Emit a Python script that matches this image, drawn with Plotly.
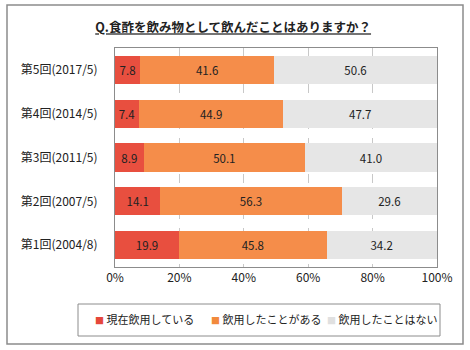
import plotly.graph_objects as go

categories = ["第1回(2004/8)", "第2回(2007/5)", "第3回(2011/5)", "第4回(2014/5)", "第5回(2017/5)"]
series_names = ["現在飲用している", "飲用したことがある", "飲用したことはない"]
current_use = [19.9, 14.1, 8.9, 7.4, 7.8]
used_before = [45.8, 56.3, 50.1, 44.9, 41.6]
never_used = [34.2, 29.6, 41.0, 47.7, 50.6]
tick_values = [0, 20, 40, 60, 80, 100]
tick_labels = ["0%", "20%", "40%", "60%", "80%", "100%"]

colors = ["#e84f3f", "#f58d4a", "#e6e6e6"]
legend_colors = ["#e5473a", "#f28a3c", "#e0e0e0"]
legend_widths = [71, 71, 118]
font_family = "Noto Sans CJK JP, Noto Sans, sans-serif"

fig = go.Figure()
for name, vals, col in zip(series_names, [current_use, used_before, never_used], colors):
    fig.add_trace(go.Bar(
        y=categories, x=vals, orientation="h", name=name,
        marker=dict(color=col, line=dict(width=0)),
        text=[f"{v:.1f}" for v in vals], textposition="inside",
        insidetextanchor="middle", constraintext="none",
        textfont=dict(size=11.5, color="#222222", family=font_family),
        showlegend=False, hoverinfo="skip",
    ))
# legend entries: coloured square glyph inside the label, compact like the original
for name, col, lw in zip(series_names, legend_colors, legend_widths):
    fig.add_trace(go.Scatter(
        x=[None], y=[None], mode="markers",
        name=f'<span style="color:{col};font-size:9px">■</span> {name}',
        marker=dict(symbol="square", size=1, color="rgba(0,0,0,0)"),
        showlegend=True, legendwidth=lw,
    ))

L, R, T, B = 115, 33, 48, 83
W, H = 470, 350
pw, ph = W - L - R, H - T - B

def px_x(p):
    return (p - L) / pw

def px_y(p):
    return (H - B - p) / ph

fig.update_layout(
    width=W, height=H,
    margin=dict(l=L, r=R, t=T, b=B),
    barmode="stack", bargap=0.36,
    paper_bgcolor="white", plot_bgcolor="white",
    font=dict(family=font_family, size=12, color="#222222"),
    title=dict(text="<b><u>Q.食酢を飲み物として飲んだことはありますか？</u></b>",
               x=0.496, xanchor="center", y=1 - 28 / H, yanchor="middle",
               font=dict(size=12.5, color="#222222")),
    xaxis=dict(range=[0, 100], tickvals=tick_values, ticktext=tick_labels,
               showgrid=True, gridcolor="#c8c8c8", griddash="dash", gridwidth=1,
               showline=True, linecolor="#8c8c8c", linewidth=1, mirror=True,
               zeroline=False, ticks="", tickfont=dict(size=12), fixedrange=True),
    yaxis=dict(showline=True, linecolor="#8c8c8c", linewidth=1, mirror=True,
               ticks="", tickfont=dict(size=12), ticklabelstandoff=14, fixedrange=True),
    legend=dict(orientation="h", xref="paper", yref="paper",
                x=px_x(55), xanchor="left",
                y=px_y(320), yanchor="middle", font=dict(size=11),
                traceorder="normal",
                bgcolor="rgba(0,0,0,0)", borderwidth=0, itemwidth=30),
    shapes=[
        dict(type="rect", xref="paper", yref="paper",
             x0=px_x(7), x1=px_x(463), y0=px_y(344), y1=px_y(5),
             line=dict(color="#8c8c8c", width=1.5), fillcolor="rgba(0,0,0,0)", layer="below"),
        dict(type="rect", xref="paper", yref="paper",
             x0=px_x(78), x1=px_x(440), y0=px_y(336), y1=px_y(304),
             line=dict(color="#8c8c8c", width=1), fillcolor="rgba(0,0,0,0)"),
    ],
)

fig.write_html("out.html")
